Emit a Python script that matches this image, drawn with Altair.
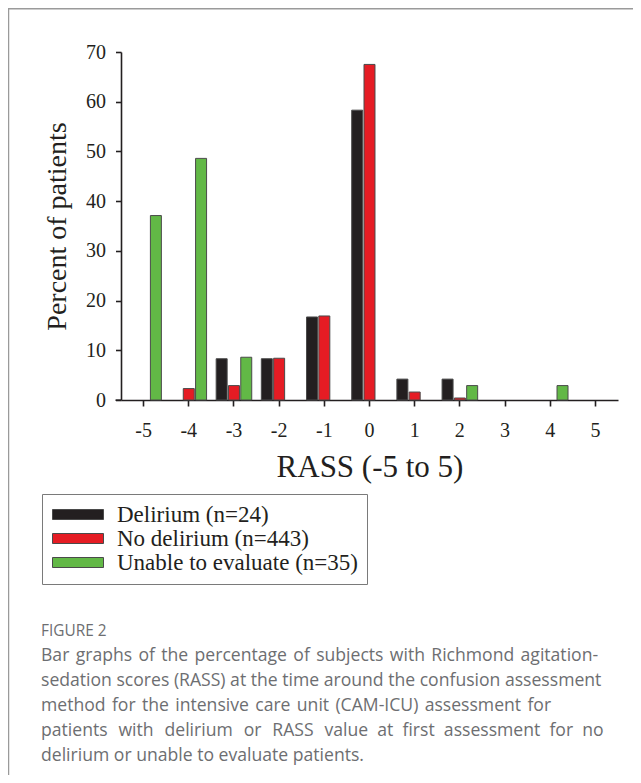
import altair as alt
import pandas as pd

# ---- data ----
rass = ["-5", "-4", "-3", "-2", "-1", "0", "1", "2", "3", "4", "5"]
groups = ["Delirium (n=24)", "No delirium (n=443)", "Unable to evaluate (n=35)"]
delirium = [0, 0, 8.3, 8.3, 16.7, 58.3, 4.2, 4.2, 0, 0, 0]
no_delirium = [0, 2.3, 2.9, 8.4, 16.9, 67.5, 1.6, 0.4, 0, 0, 0]
unable = [37.1, 48.6, 8.6, 0, 0, 0, 0, 2.9, 0, 2.9, 0]
colors = ["#231f20", "#e51c24", "#62b846"]
y_ticks = [0, 10, 20, 30, 40, 50, 60, 70]

caption_head = "FIGURE 2"
HS = "\u200a"   # hair space, used to mimic justified lines
NB = "\u00a0"


def spread(line, seps):
    words = line.split(" ")
    out = words[0]
    for i, w in enumerate(words[1:]):
        out += seps[i] if i < len(seps) else seps[-1]
        out += w
    return out


caption_lines = [
    "Bar graphs of the percentage of subjects with Richmond agitation-".replace(" ", " " + HS),
    "sedation scores (RASS) at the time around the confusion assessment",
    "method for the intensive care unit (CAM-ICU) assessment for".replace(" ", " " + HS),
    spread("patients with delirium or RASS value at first assessment for no",
           [" " + NB + HS] * 5 + [" " + NB]),
    "delirium or unable to evaluate patients.",
]

rows = []
for g, vals in zip(groups, [delirium, no_delirium, unable]):
    for r, v in zip(rass, vals):
        if v > 0:
            rows.append({"rass": r, "group": g, "pct": v})
df = pd.DataFrame(rows)

SERIF = "Liberation Serif"
INK = "#231f20"

bars = alt.Chart(df).mark_bar(stroke="#4a4a4a", strokeWidth=1).encode(
    x=alt.X(
        "rass:N",
        sort=rass,
        scale=alt.Scale(domain=rass, paddingInner=0, paddingOuter=0),
        axis=alt.Axis(
            title="RASS (-5 to 5)",
            labelAngle=0,
            tickSize=6,
            labelPadding=14,
            titlePadding=12,
            titleFontSize=31,
        ),
    ),
    xOffset=alt.XOffset(
        "group:N",
        sort=groups,
        scale=alt.Scale(domain=groups, paddingInner=0.106, paddingOuter=0.39),
    ),
    y=alt.Y(
        "pct:Q",
        scale=alt.Scale(domain=[0, 70], nice=False),
        axis=alt.Axis(
            title="Percent of patients",
            values=y_ticks,
            tickSize=5.5,
            labelPadding=10,
            titlePadding=14,
            titleFontSize=28,
        ),
    ),
    color=alt.Color(
        "group:N",
        sort=groups,
        scale=alt.Scale(domain=groups, range=colors),
        legend=alt.Legend(
            title=None,
            orient="none",
            legendX=-79,
            legendY=442,
            direction="vertical",
            padding=9,
            strokeColor="#7a7a7a",
            fillColor="white",
            symbolType="M-2,-1H8.2V1H-2Z",
            symbolSize=100,
            symbolStrokeColor="#4a4a4a",
            symbolStrokeWidth=1,
            symbolOpacity=1,
            labelOffset=43,
            labelFont=SERIF,
            labelFontSize=23,
            labelColor=INK,
            rowPadding=0,
            labelLimit=400,
        ),
    ),
)

one = alt.Data(values=[{}])
frame_top = alt.Chart(one).mark_rule(color="#9a9a9a", strokeWidth=1.5).encode(
    x=alt.value(-112.5), x2=alt.value(520), y=alt.value(-43.3)
)
frame_left = alt.Chart(one).mark_rule(color="#9a9a9a", strokeWidth=1.5).encode(
    x=alt.value(-112.5), y=alt.value(-44), y2=alt.value(723)
)
axis_stub = alt.Chart(one).mark_rule(color=INK, strokeWidth=1.6).encode(
    x=alt.value(-5.5), x2=alt.value(0), y=alt.value(348.2)
)

head = alt.Chart(one).mark_text(
    text=caption_head, align="left", baseline="alphabetic",
    font="Open Sans", fontSize=15.4, color="#6d6e71",
).encode(x=alt.value(-80), y=alt.value(584))

caption = alt.Chart(one).mark_text(
    text=caption_lines, align="left", baseline="alphabetic", lineHeight=25,
    font="Open Sans", fontSize=17.6, color="#6d6e71",
).encode(x=alt.value(-80), y=alt.value(609))

chart = alt.layer(frame_top, frame_left, axis_stub, bars, head, caption).properties(
    width=497,
    height=348,
    padding={"left": 113, "top": 44, "right": 15, "bottom": 375},
    autosize="none",
    background="white",
).configure_view(stroke=None).configure_axis(
    grid=False,
    domainColor=INK,
    domainWidth=1.6,
    tickColor=INK,
    tickWidth=1.6,
    labelFont=SERIF,
    labelFontSize=20,
    labelColor=INK,
    titleFont=SERIF,
    titleFontWeight="normal",
    titleColor=INK,
)

chart.save("out.html", embed_options={"renderer": "svg", "actions": False})
